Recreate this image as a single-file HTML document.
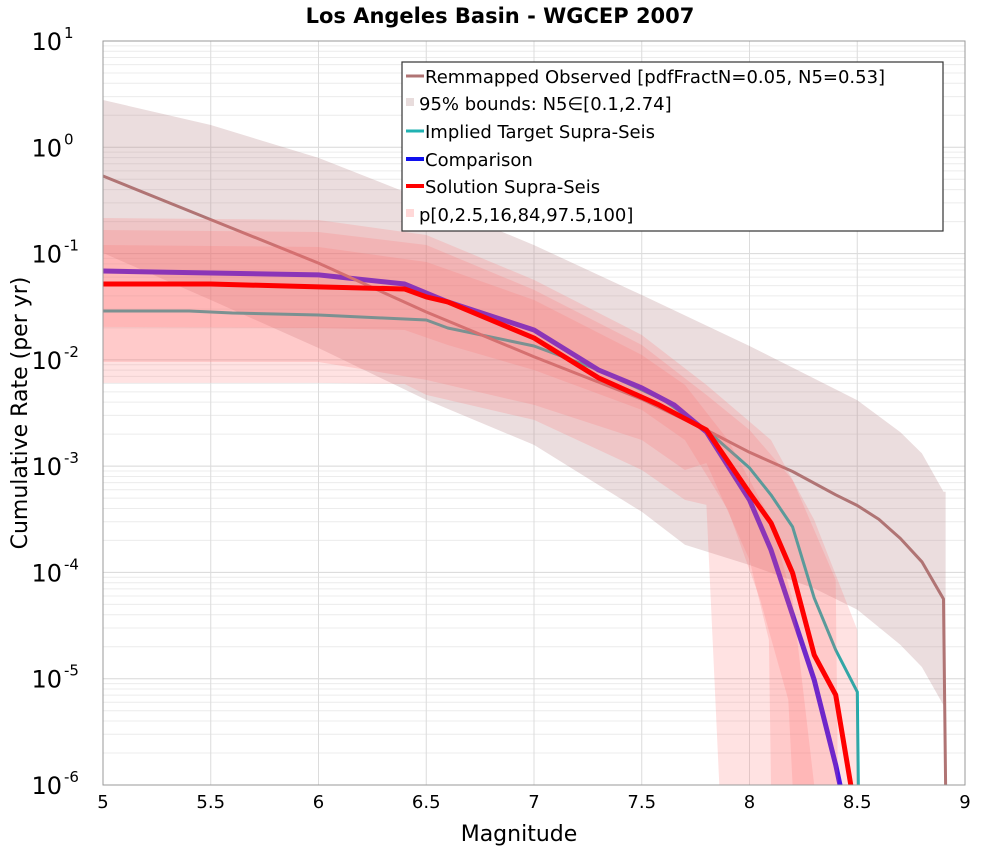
<!DOCTYPE html>
<html><head><meta charset="utf-8"><style>
body{margin:0;background:#fff;}
svg text{font-family:"DejaVu Sans","Liberation Sans",sans-serif;}
</style></head><body>
<svg id="chart" width="1000" height="850" viewBox="0 0 1000 850" xmlns="http://www.w3.org/2000/svg">
<text x="500" y="23" text-anchor="middle" font-size="21" font-weight="bold">Los Angeles Basin - WGCEP 2007</text>
<g id="grid"></g>
<g id="marks"></g>
<rect x="103" y="41" width="862" height="744" fill="none" stroke="#999" stroke-width="1"/>
<g id="axes"></g>
<text x="519" y="841" text-anchor="middle" font-size="22">Magnitude</text>
<text transform="translate(27,413) rotate(-90)" text-anchor="middle" font-size="22">Cumulative Rate (per yr)</text>
<g>
<rect x="402" y="62" width="541" height="169" fill="#fff" stroke="#333" stroke-width="1.2"/>
<line x1="406" y1="76" x2="424" y2="76" stroke="#b07474" stroke-width="3"/>
<text x="425" y="83" font-size="18">Remmapped Observed [pdfFractN=0.05, N5=0.53]</text>
<rect x="406" y="98" width="8" height="8" fill="#e8dcdc"/>
<text x="419" y="110" font-size="18">95% bounds: N5∈[0.1,2.74]</text>
<line x1="406" y1="131" x2="424" y2="131" stroke="#20b2b2" stroke-width="3"/>
<text x="425" y="138" font-size="18">Implied Target Supra-Seis</text>
<line x1="406" y1="159" x2="424" y2="159" stroke="#1010ee" stroke-width="4"/>
<text x="425" y="166" font-size="18">Comparison</text>
<line x1="406" y1="186" x2="424" y2="186" stroke="#ff0000" stroke-width="4"/>
<text x="425" y="193" font-size="18">Solution Supra-Seis</text>
<rect x="406" y="209" width="8" height="8" fill="#ffd8d8"/>
<text x="419" y="221" font-size="18">p[0,2.5,16,84,97.5,100]</text>
</g>
</svg>
<script>
// log10 cumulative rate values
const obsM = [5,5.5,6,6.5,7,7.5,7.8,8,8.2,8.4,8.5,8.6,8.7,8.8,8.9,8.91];
const obsL = [-0.27,-0.68,-1.09,-1.55,-1.97,-2.37,-2.66,-2.87,-3.05,-3.27,-3.37,-3.5,-3.68,-3.9,-4.25,-6];
const bndUpM = [5,5.5,6,6.5,7,7.5,8,8.5,8.7,8.8,8.9,8.91];
const bndUpL = [0.445,0.21,-0.10,-0.50,-0.92,-1.39,-1.87,-2.38,-2.68,-2.88,-3.24,-3.24];
const bndLoM = [5,5.5,6,6.5,7,7.5,7.7,8,8.3,8.5,8.7,8.8,8.9,8.91];
const bndLoL = [-0.994,-1.437,-1.888,-2.377,-2.80,-3.43,-3.74,-3.93,-4.15,-4.35,-4.68,-4.89,-5.25,-5.25];
const solM = [5,5.5,6,6.4,6.5,6.6,7,7.3,7.58,7.8,8,8.1,8.2,8.3,8.4,8.47];
const solL = [-1.286,-1.286,-1.314,-1.333,-1.408,-1.455,-1.794,-2.170,-2.424,-2.659,-3.252,-3.534,-4.005,-4.776,-5.152,-6];
const cmpM = [5,5.5,6,6.4,6.6,7,7.3,7.5,7.65,7.8,8,8.1,8.2,8.3,8.4,8.42];
const cmpL = [-1.164,-1.183,-1.201,-1.286,-1.455,-1.719,-2.095,-2.264,-2.424,-2.678,-3.318,-3.788,-4.400,-5.011,-5.811,-6];
const impM = [5,5.4,5.6,6,6.3,6.5,6.6,7,7.3,7.6,7.8,8,8.1,8.2,8.3,8.4,8.5,8.505];
const impL = [-1.540,-1.540,-1.559,-1.578,-1.606,-1.625,-1.700,-1.870,-2.095,-2.377,-2.659,-3.017,-3.271,-3.572,-4.240,-4.729,-5.124,-6];
// percentile bands
const p100M = [5,6,6.5,7,7.5,7.8,8.1,8.3,8.5,8.51];
const p100L = [-0.665,-0.684,-0.825,-1.248,-1.766,-2.236,-2.754,-3.506,-4.541,-6];
const p0M = [5,6,6.4,6.5,7,7.5,7.7,7.8,7.86];
const p0L = [-2.217,-2.217,-2.227,-2.330,-2.565,-3.036,-3.318,-3.365,-6];
const p975M = [5,6,6.5,7,7.5,7.8,8,8.2,8.35,8.4,8.41];
const p975L = [-0.778,-0.797,-0.919,-1.342,-1.860,-2.330,-2.659,-3.130,-3.835,-4.071,-6];
const p25M = [5,6,6.5,7,7.5,7.7,7.8,8,8.09,8.1];
const p25L = [-2.020,-2.020,-2.189,-2.424,-2.754,-3.036,-2.970,-3.882,-4.635,-6];
const p84M = [5,6,6.5,7,7.5,7.7,7.9,8.1,8.2,8.3];
const p84L = [-0.919,-0.938,-1.079,-1.437,-1.954,-2.236,-2.754,-3.506,-4.259,-6];
const p16M = [5,6,6.4,6.6,7,7.5,7.7,7.9,8.05,8.18,8.2];
const p16L = [-1.690,-1.700,-1.719,-1.860,-2.095,-2.471,-2.754,-3.412,-4.259,-5.199,-6];
const xTicks = ["5","5.5","6","6.5","7","7.5","8","8.5","9"];
const yExps = [1,0,-1,-2,-3,-4,-5,-6];

const NS="http://www.w3.org/2000/svg";
const X0=103,X1=965,Y0=41,Y1=785;
function xs(m){return X0+(m-5)/4*(X1-X0);}
function ys(l){return Y0+(1-l)/7*(Y1-Y0);}
function mk(tag,parent){const e=document.createElementNS(NS,tag);parent.appendChild(e);return e;}
const grid=document.getElementById('grid'),marks=document.getElementById('marks'),axes=document.getElementById('axes');
for(let d=-6;d<=0;d++){
  for(let k=1;k<10;k++){
    const y=ys(d+Math.log10(k));
    const ln=mk('line',grid);
    
    
    ln.setAttribute('x1',X0);ln.setAttribute('x2',X1);ln.setAttribute('y1',y);ln.setAttribute('y2',y);
    ln.setAttribute('stroke',k===1?'#d8d8d8':'#ececec');ln.setAttribute('stroke-width','1');
  }
}
xTicks.forEach(t=>{
  const x=xs(parseFloat(t));
  const ln=mk('line',grid);
  
  
  ln.setAttribute('x1',x);ln.setAttribute('x2',x);ln.setAttribute('y1',Y0);ln.setAttribute('y2',Y1);
  ln.setAttribute('stroke','#dcdcdc');
  const tx=mk('text',axes);
  
  
  tx.setAttribute('x',x);tx.setAttribute('y',808);tx.setAttribute('text-anchor','middle');tx.setAttribute('font-size','18');
  tx.textContent=t;
});
yExps.forEach(e=>{
  const y=ys(e);
  const tx=mk('text',axes);
  
  
  tx.setAttribute('x',62);tx.setAttribute('y',y+9);tx.setAttribute('text-anchor','end');tx.setAttribute('font-size','24');
  tx.textContent='10';
  const sp=mk('text',axes);
  
  
  sp.setAttribute('x',64);sp.setAttribute('y',y-3);sp.setAttribute('font-size','15');
  sp.textContent=String(e);
});
function pts(M,L){return M.map((m,i)=>xs(m).toFixed(1)+','+ys(L[i]).toFixed(1));}
function band(uM,uL,lM,lL,fill,name){
  const p=mk('polygon',marks);
  
  
  p.setAttribute('points',pts(uM,uL).concat(pts(lM,lL).reverse()).join(' '));
  p.setAttribute('fill',fill);
}
function line(M,L,color,w,name){
  const p=mk('polyline',marks);
  
  
  p.setAttribute('points',pts(M,L).join(' '));
  p.setAttribute('fill','none');p.setAttribute('stroke',color);p.setAttribute('stroke-width',w);
  p.setAttribute('stroke-linejoin','round');
}
band(bndUpM,bndUpL,bndLoM,bndLoL,'rgba(175,120,125,0.25)','bounds-95-band');
line(impM,impL,'#00b5b5',3,'implied-target-line');
line(cmpM,cmpL,'#2000ff',5,'comparison-line');
line(obsM,obsL,'#b07474',3,'observed-line');
band(p100M,p100L,p0M,p0L,'rgba(255,110,110,0.2)','percentile-0-100-band');
band(p975M,p975L,p25M,p25L,'rgba(255,110,110,0.2)','percentile-2.5-97.5-band');
band(p84M,p84L,p16M,p16L,'rgba(255,110,110,0.2)','percentile-16-84-band');
line(solM,solL,'#ff0000',5,'solution-line');
</script>
</body></html>
